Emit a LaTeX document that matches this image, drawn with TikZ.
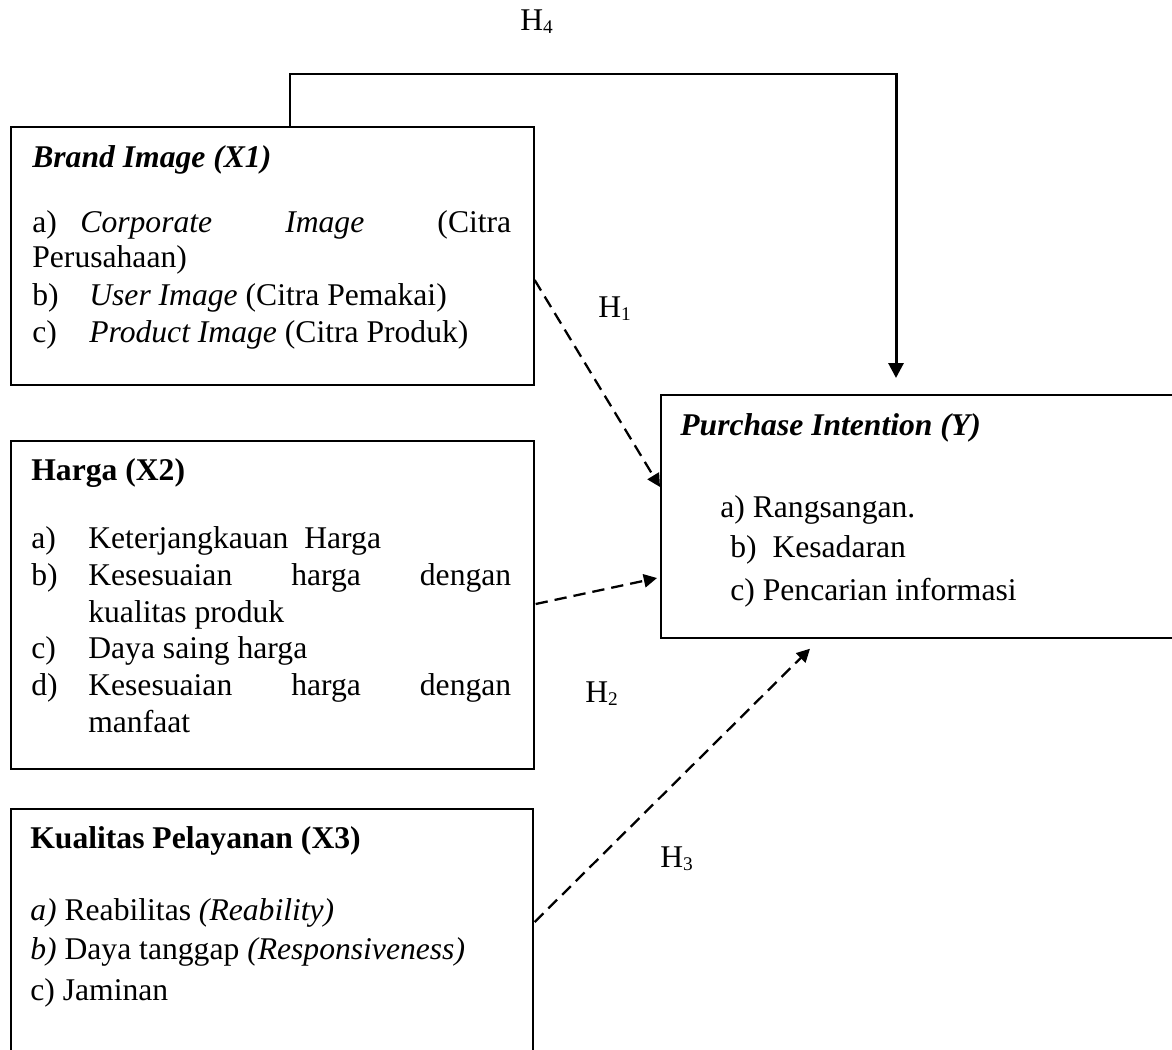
\documentclass[tikz,border=0pt]{standalone}
\usepackage{fontspec}
\setmainfont{Liberation Serif}
\usetikzlibrary{calc,arrows.meta}
\newcommand{\hsub}[1]{H\raisebox{-2pt}{\fontsize{11}{11}\selectfont #1}}

\begin{document}
\begin{tikzpicture}[x=0.02cm,y=-0.02cm,
            font=\fontsize{18}{21}\selectfont,
            box/.style={draw,line width=1pt,rectangle,inner sep=0pt,anchor=north west},
            txt/.style={anchor=base west,inner sep=0pt},
            hyp/.style={line width=1.3pt,dash pattern=on 7pt off 4pt,-{Triangle[length=7.5pt,width=7.5pt]}}]
            \useasboundingbox (0,0) rectangle (1172,1049);
            \clip (0,0) rectangle (1172,1049);

            \node[box,minimum width=10.46cm,minimum height=5.16cm] (x1) at (10,126) {};
            \node[txt] (x1t) at (32,167) {\textbf{\textit{Brand Image (X1)}}};
            \node[txt] (x1a) at (32,232) {\hbox to 9.58cm{a)\hspace{0.47cm}\textit{Corporate}\hfill\textit{Image}\hfill(Citra}};
            \node[txt] (x1a2) at (32,267) {Perusahaan)};
            \node[txt] (x1b) at (32,305) {\makebox[1.14cm][l]{b)}\textit{User Image} (Citra Pemakai)};
            \node[txt] (x1c) at (32,342) {\makebox[1.14cm][l]{c)}\textit{Product Image} (Citra Produk)};

            \node[box,minimum width=10.46cm,minimum height=6.56cm] (x2) at (10,440) {};
            \node[txt] (x2t) at (31,480) {\textbf{Harga (X2)}};
            \node[txt] (x2a) at (31,548) {\makebox[1.14cm][l]{a)}Keterjangkauan\ \ Harga};
            \node[txt] (x2b) at (31,585) {\hbox to 9.6cm{\makebox[1.14cm][l]{b)}Kesesuaian\hfill harga\hfill dengan}};
            \node[txt] (x2b2) at (88,622) {kualitas produk};
            \node[txt] (x2c) at (31,658) {\makebox[1.14cm][l]{c)}Daya saing harga};
            \node[txt] (x2d) at (31,695) {\hbox to 9.6cm{\makebox[1.14cm][l]{d)}Kesesuaian\hfill harga\hfill dengan}};
            \node[txt] (x2d2) at (88,732) {manfaat};

            \node[box,minimum width=10.44cm,minimum height=5.6cm] (x3) at (10,808) {};
            \node[txt] (x3t) at (30,848) {\textbf{Kualitas Pelayanan (X3)}};
            \node[txt] (x3a) at (30,920) {\textit{a)} Reabilitas \textit{(Reability)}};
            \node[txt] (x3b) at (30,959) {\textit{b)} Daya tanggap \textit{(Responsiveness)}};
            \node[txt] (x3c) at (30,1000) {c) Jaminan};

            \node[box,minimum width=10.8cm,minimum height=4.86cm] (y) at (660,394) {};
            \node[txt] (yt) at (680,435) {\textbf{\textit{Purchase Intention (Y)}}};
            \node[txt] (ya) at (720,517) {a) Rangsangan.};
            \node[txt] (yb) at (730,557) {b)\ \ Kesadaran};
            \node[txt] (yc) at (730,600) {c) Pencarian informasi};

            \node[txt] (h4) at (520,30) {\hsub{4}};
            \node[txt] (h1) at (598,317) {\hsub{1}};
            \node[txt] (h2) at (585,702) {\hsub{2}};
            \node[txt] (h3) at (660,867) {\hsub{3}};

            \coordinate (t1) at (290,74);
            \coordinate (t2) at (896,74);
            \draw[line width=1.7pt,-{Triangle[length=8.5pt,width=8.5pt]},shorten >=0.32cm] (x1.north -| t1) -- (t1) -- (t2) -- (y.north -| t2);
            \draw[hyp] ($(x1.north east)+(0,154)$) -- ($(y.north west)+(0,93)$);
            \draw[hyp] ($(x2.north east)+(1,164)$) -- ($(y.north west)+(-3,184)$);
            \draw[hyp] ($(x3.north east)+(1,114)$) -- ($(y.south west)+(150,10)$);
        \end{tikzpicture}
\end{document}
